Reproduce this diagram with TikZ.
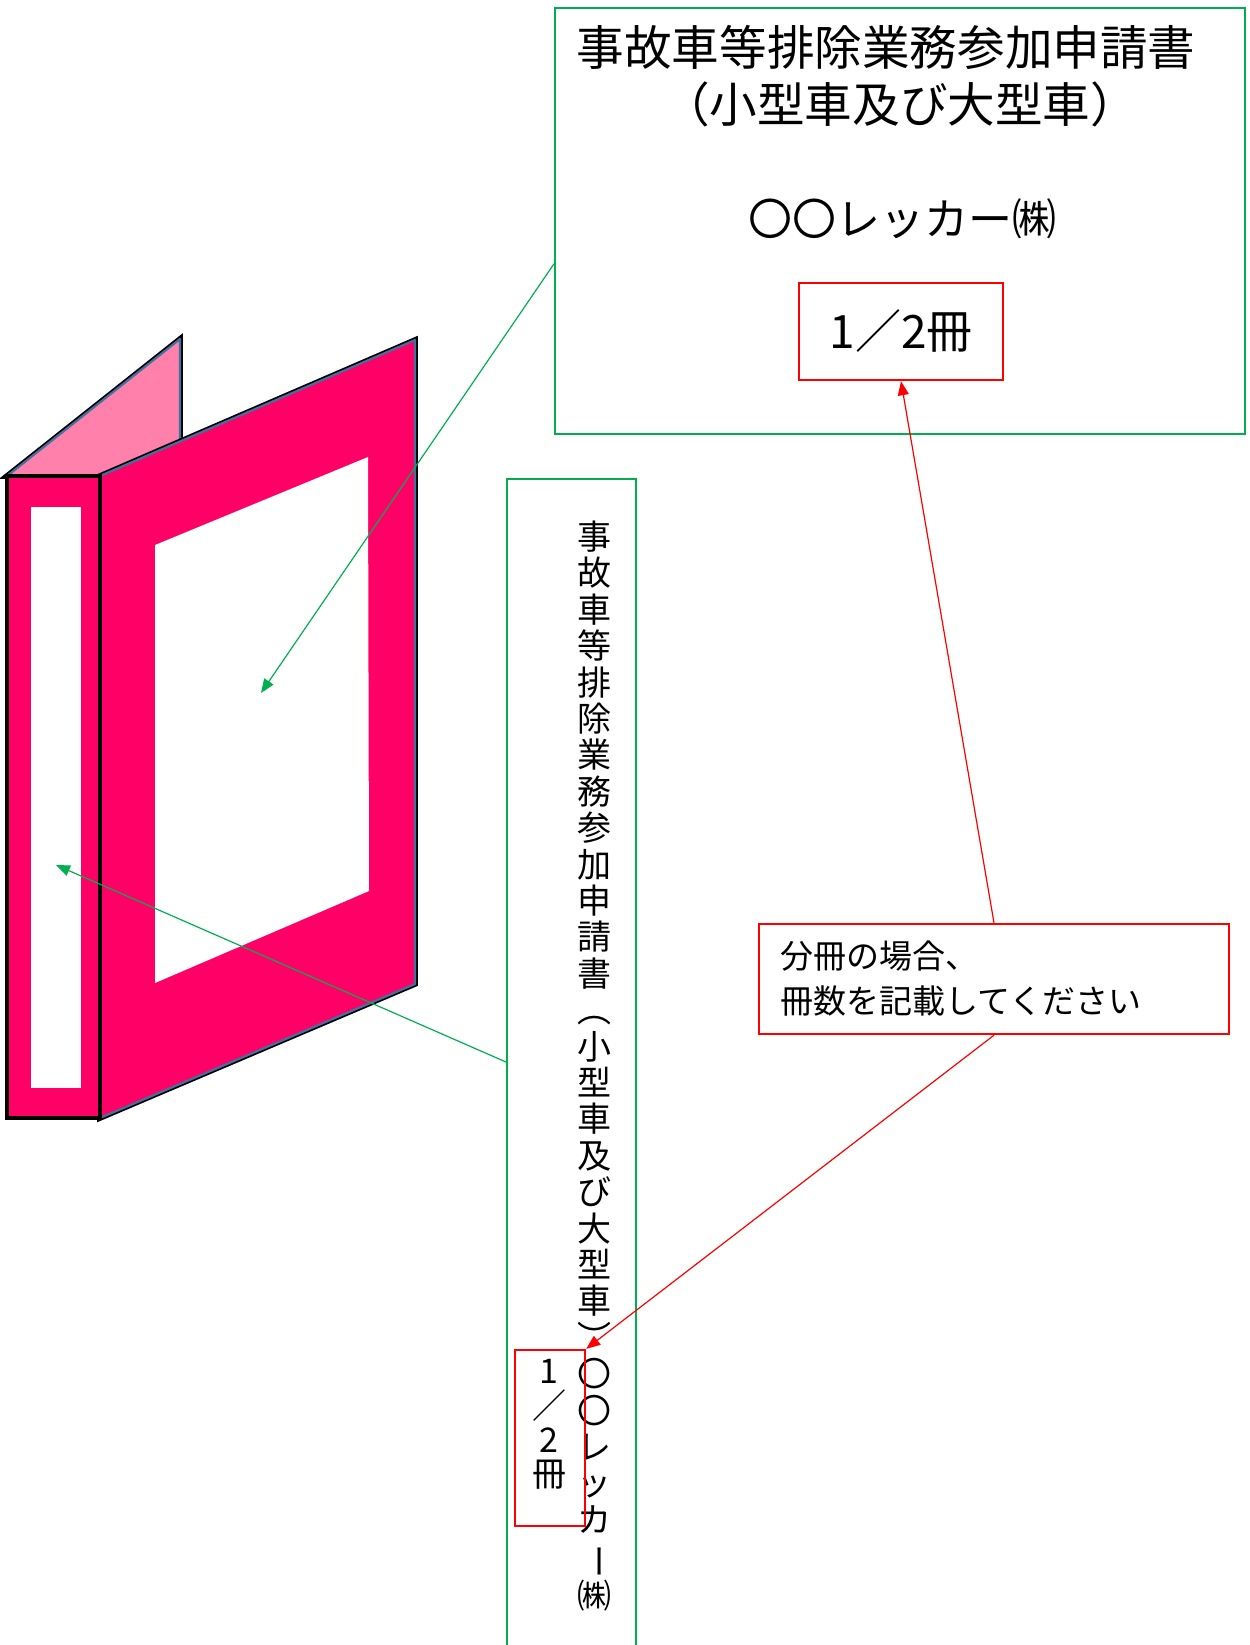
\documentclass[tikz,border=0pt]{standalone}
\usepackage{fontspec}
\setmainfont{Noto Sans CJK JP}
\usepackage{graphicx}
\usetikzlibrary{arrows.meta,calc}
\definecolor{docgreen}{RGB}{0,176,80}
\definecolor{binderpink}{RGB}{255,0,102}
\definecolor{backpink}{RGB}{255,128,170}
\definecolor{edgeblue}{RGB}{65,113,156}
\tikzset{
  binderrim/.style = {preaction = {draw = black, line width = 2.8pt}, draw = edgeblue, line width = 1.1pt, line join = round},
  greenbox/.style = {draw = docgreen, line width = 1pt},
  redbox/.style = {draw = red, line width = 1.2pt},
  greenarrow/.style = {draw = docgreen, line width = 0.6pt, -{Triangle[length = 7pt, width = 5.5pt]}},
  redarrow/.style = {draw = red, line width = 0.6pt, -{Triangle[length = 7pt, width = 5.5pt]}}
}
\begin{document}
\begin{tikzpicture} [x = 0.5pt, y = -0.5pt]
\useasboundingbox (0,0) rectangle (1249,1645);
\clip (0,0) rectangle (1249,1645);
%\tikzstyle{every node}=[draw];
% binder
\path [binderrim, fill = backpink] (7,476) -- (180,339) -- (180,441.5) -- (100,476) -- cycle;
\path [binderrim, fill = binderpink] (100,476) -- (415,340) -- (415,984) -- (100,1118) -- cycle;
\fill [white] (155,545) -- (368,457) -- (369,891) -- (155,983) -- cycle;
\filldraw [fill = binderpink, draw = black, line width = 2pt] (7,476) rectangle (100,1118);
\fill [white] (31,507) rectangle (81,1088);
\coordinate (winpt) at (261,693);
\coordinate (spinept) at (56,865);
% cover label
\node [greenbox, minimum width = 345pt, minimum height = 213pt] (cover) at (900,221) {};
\node [font = \fontsize{23.8}{28}\selectfont] (title) at (886,47) {事故車等排除業務参加申請書};
\node [font = \fontsize{23.8}{28}\selectfont] (subtitle) at (900,104) {（小型車及び大型車）};
\node [font = \fontsize{22}{26}\selectfont] (company) at (902,219) {〇〇レッカー㈱};
\node [redbox, minimum width = 102pt, minimum height = 48.5pt, font = \fontsize{23}{27}\selectfont] (vol) at (901,331.5) {1／2冊};
% spine label
\node [greenbox, anchor = north, minimum width = 64.5pt, minimum height = 620pt] (sbox) at (571.5,478) {};
\node [align = center, inner sep = 0pt, font = \fontsize{17}{18.2}\selectfont] (stext) at (594,1066)
{事\\故\\車\\等\\排\\除\\業\\務\\参\\加\\申\\請\\書\\︵\\小\\型\\車\\及\\び\\大\\型\\車\\︶\\〇\\〇\\レ\\ッ\\カ\\\rotatebox[origin=c]{-90}{ー}\\㈱};
\node [redbox, minimum width = 35pt, minimum height = 88pt] (svol) at (550,1438) {};
\node [align = center, inner sep = 0pt, font = \fontsize{17}{17.2}\selectfont] (svoltext) at (549,1424.5) {1\\／\\2\\冊};
% note
\node [redbox, minimum width = 235pt, minimum height = 55pt, text width = 214pt, align = left, font = \fontsize{16.5}{22.5}\selectfont] (note) at (994,979) {分冊の場合、\\冊数を記載してください};
\draw [greenarrow] ($(cover.north west)!0.6!(cover.south west)$) -- (winpt);
\draw [greenarrow] (sbox.north west) ++(0,584) -- (spinept);
\draw [redarrow] (note.north) -- (vol.south);
\draw [redarrow] (note.south) -- (svol.north east);
\end{tikzpicture}
\end{document}
